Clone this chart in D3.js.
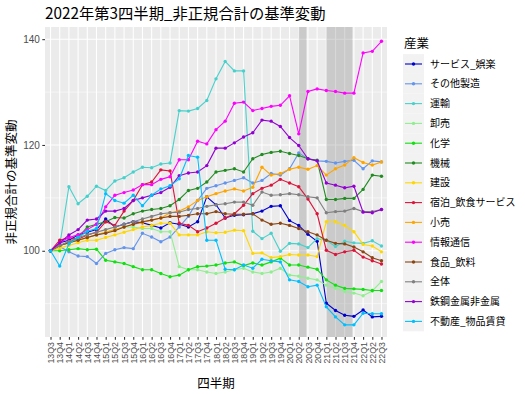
<!DOCTYPE html>
<html><head><meta charset="utf-8">
<script src="https://cdn.jsdelivr.net/npm/d3@7"></script>
<style>body{margin:0;background:#fff}svg{display:block}text{font-family:"Noto Sans CJK JP","Noto Sans",sans-serif}</style>
</head><body>
<script>
const quarters = ["13Q3","13Q4","14Q1","14Q2","14Q3","14Q4","15Q1","15Q2","15Q3","15Q4","16Q1","16Q2","16Q3","16Q4","17Q1","17Q2","17Q3","17Q4","18Q1","18Q2","18Q3","18Q4","19Q1","19Q2","19Q3","19Q4","20Q1","20Q2","20Q3","20Q4","21Q1","21Q2","21Q3","21Q4","22Q1","22Q2","22Q3"];
const industries = ["サービス_娯楽","その他製造","運輸","卸売","化学","機械","建設","宿泊_飲食サービス","小売","情報通信","食品_飲料","全体","鉄鋼金属非金属","不動産_物品賃貸"];
const colors = ["#0000CD","#6495ED","#48D1CC","#90EE90","#11E011","#228B22","#FFD700","#DC143C","#FFA500","#FF00FF","#8B4513","#808080","#9400D3","#00BFFF"];
const svc = [100,101.5,102,103,103.5,104,106,104.5,105,105.5,105.3,104.8,104.3,105.3,105,104.5,105.5,110.2,108.7,106.2,106.7,106.8,107,107.5,108.4,108.5,105.7,104.8,103.1,101.8,90.1,88.7,87.8,87.6,88.8,87.5,87.6];
const otherMfg = [100,100.8,99.8,99,98.9,97.6,99.5,100.2,100.6,100.4,103.3,102.6,101.7,102.6,104.5,106.5,109.5,111.8,112.3,112.8,113.3,113.8,112.8,113.3,114.6,114.3,115.5,118.5,117.4,117,116.9,116.6,116.9,117.1,115.5,117,116.8];
const transport = [100,101,112.1,108.9,110.3,112.2,111.4,113.2,113.8,114.9,115.8,115.7,116.4,116.6,126.5,126.4,126.9,128.4,132.5,135.8,134,134,103.7,102.3,103.3,99.9,101.4,101.3,100.6,102.3,102,100.8,101.8,101.5,101.4,101.9,100.9];
const wholesale = [100,101,101.5,102,102.5,103,103.5,104,104.5,104.5,104.2,104.2,103.6,103.6,97,96.4,96.4,96,95.7,96,96.4,96.7,96,95.7,96,96.7,95.4,95.2,94.8,94.5,93.5,92.9,92.3,92,91.5,92.4,94.2];
const chemical = [100,100,100.2,100.4,100.2,100.3,98.2,97.9,97.6,97,96.4,96.4,95.7,95.1,95.4,96.4,97,97.1,97.3,97.7,97.9,97.2,97.7,97.3,97.9,98.6,97.3,97.3,96.9,96.5,94.5,93.5,92.9,92.8,92.7,92.5,92.5];
const machinery = [100,101,101.5,102.5,104.5,105,105.5,106.3,106.2,107,107.5,107.8,108,108.5,109.7,111.4,111.8,113,114.9,115.2,115.5,114.9,117.4,118.2,118.6,118.8,118.4,118,117.4,117.1,109.7,109.7,109.9,109.9,111.6,114.3,114.1];
const construction = [100,100.5,101,101.5,102,102,102.5,103,103.5,104,104.5,104.8,105.2,105.2,103,103,103,103.6,103.4,103.5,103.9,103.8,99.5,99.6,98.7,98.9,99.3,99.2,99.2,98.9,105.5,105.5,104.8,103.6,101.2,100.9,99.8];
const hospitality = [100,102,102.5,102.2,103,103.5,105.5,104.8,107.5,109.5,112.5,113,115.3,115.1,105.2,104.8,103.6,104.3,105.2,106.2,107,108.6,110.8,111.8,112.4,113.5,112.8,112.1,109.8,107,100.1,99.3,99.8,100.1,98.8,98.1,97.5];
const retail = [100,101,101.5,102,102.5,103,103.5,104,104.5,105,105.3,105.8,106.2,107.2,107.5,108.3,109.5,110.2,110.8,111.3,111.7,111.3,112,115.8,114.3,114.6,115.4,115.8,115.4,116.1,114.3,115.5,116.2,117.6,116.7,116.2,116.8];
const infoComm = [100,101.5,102.5,103,104,105,108.3,110.5,111,111.5,112.5,112.5,113.5,114,117.2,117.2,120.7,120.2,122.9,124.5,127.9,128.1,126.5,126.9,127.3,127.5,129.3,122.1,130.1,130.6,130.3,130.1,129.8,129.8,137.4,137.7,139.6];
const foodBev = [100,101,101.5,102,102.5,103,103.3,103.8,104.5,105,105.5,105.8,106.2,106.5,106.5,106.7,107,107,107.4,107,106.9,106.9,107,105.8,105,105.2,104.8,104.2,103.6,103,102,101.4,101.3,100.7,99.8,98.7,98.1];
const total = [100,101,101.8,102.5,103,103.5,104,104.5,105,105.5,106,106.5,107,107.2,107.3,107.8,108,108.4,108.7,108.9,109.2,109.2,108.6,111.1,110.5,110.6,110.8,110.6,110.2,110,107.2,107.4,107.5,108,107.4,107.4,107.8];
const steel = [100,101.5,103,104,105.8,106,107.5,107.5,108,109.5,110,110.5,111,112,114.2,114.7,114.9,116.1,119.4,119.4,120.4,121.5,122.3,124.7,124.5,123.5,121.4,119.9,117.4,117,112.8,112.4,111.9,112.2,107.3,107.2,107.8];
const realEstate = [100,97.1,101.3,102.5,103.7,104.2,110.8,109.5,109,110.5,108.5,110.5,111.7,112.3,113.6,118,117.7,102,102,96.5,96.4,97.3,96.7,98.4,98.1,97.9,94.5,94.2,93.2,93.5,89.4,87.5,86,86,88.2,88.1,88.1];
const seriesValues = [svc,otherMfg,transport,wholesale,chemical,machinery,construction,hospitality,retail,infoComm,foodBev,total,steel,realEstate];
const yTicks = [100,120,140];
const yMinor = [90,110,130];
const shadedPeriods = [["20Q2","20Q3"],["21Q1","21Q4"]];
const titleText = "2022年第3四半期_非正規合計の基準変動";
const xTitle = "四半期", yTitle = "非正規合計の基準変動", legendTitle = "産業";

const W=525,H=394;
const P={l:45,r:387,t:27,b:337};
const svg=d3.select("body").append("svg").attr("width",W).attr("height",H);
const x=d3.scalePoint().domain(quarters).range([P.l,P.r]).padding(0.6);
const y=d3.scaleLinear().domain([83.7,142.3]).range([P.b,P.t]);

svg.append("rect").attr("x",P.l).attr("y",P.t).attr("width",P.r-P.l).attr("height",P.b-P.t).attr("fill","#EBEBEB");
const g=svg.append("g");
g.selectAll(".ymin").data(yMinor).join("line").attr("x1",P.l).attr("x2",P.r).attr("y1",d=>y(d)).attr("y2",d=>y(d)).attr("stroke","#fff").attr("stroke-width",0.55);
g.selectAll(".ymaj").data(yTicks).join("line").attr("x1",P.l).attr("x2",P.r).attr("y1",d=>y(d)).attr("y2",d=>y(d)).attr("stroke","#fff").attr("stroke-width",1.07);
g.selectAll(".xmaj").data(quarters).join("line").attr("x1",d=>x(d)).attr("x2",d=>x(d)).attr("y1",P.t).attr("y2",P.b).attr("stroke","#fff").attr("stroke-width",1.07);
g.selectAll(".shade").data(shadedPeriods).join("rect").attr("x",d=>x(d[0])).attr("width",d=>x(d[1])-x(d[0])-1.5).attr("y",P.t).attr("height",P.b-P.t).attr("fill","#7F7F7F").attr("opacity",0.3);

const line=d3.line().x((d,i)=>x(quarters[i])).y(d=>y(d));
industries.forEach((name,k)=>{
  const vals=seriesValues[k];
  g.append("path").datum(vals).attr("d",line).attr("fill","none").attr("stroke",colors[k]).attr("stroke-width",1.1);
  g.selectAll(null).data(vals).join("circle").attr("cx",(d,i)=>x(quarters[i])).attr("cy",d=>y(d)).attr("r",1.7).attr("fill",colors[k]);
});

// axes
const yAx=svg.append("g").attr("transform",`translate(${P.l},0)`).call(d3.axisLeft(y).tickValues(yTicks).tickSize(2.7).tickPadding(2.5));
yAx.select(".domain").remove();
yAx.selectAll("line").attr("stroke","#333").attr("stroke-width",1.07);
yAx.selectAll("text").attr("fill","#4D4D4D").style("font-size","10px").style("font-family","'Liberation Sans',Arial,sans-serif");
const xAx=svg.append("g").attr("transform",`translate(0,${P.b})`).call(d3.axisBottom(x).tickSize(2.7));
xAx.select(".domain").remove();
xAx.selectAll("line").attr("stroke","#333").attr("stroke-width",1.07);
xAx.selectAll("text").attr("fill","#4D4D4D").style("font-size","8.8px").style("font-family","'Liberation Sans',Arial,sans-serif")
  .attr("transform","rotate(-90)").attr("text-anchor","end").attr("x",-5).attr("y",0).attr("dy","0.35em");

svg.append("text").attr("x",45).attr("y",19).attr("font-size","15.3px").attr("fill","#000").text(titleText);
svg.append("text").attr("x",(P.l+P.r)/2).attr("y",388).attr("text-anchor","middle").attr("font-size","12.5px").attr("fill","#000").text(xTitle);
svg.append("text").attr("transform",`translate(16,${(P.t+P.b)/2}) rotate(-90)`).attr("text-anchor","middle").attr("font-size","12.5px").attr("fill","#000").text(yTitle);

// legend
const lg=svg.append("g");
lg.append("text").attr("x",404).attr("y",48).attr("font-size","12.5px").attr("fill","#000").text(legendTitle);
industries.forEach((name,k)=>{
  const cy=64+k*19.8;
  lg.append("rect").attr("x",403).attr("y",cy-9.9).attr("width",21).attr("height",19.8).attr("fill","#F2F2F2");
  lg.append("line").attr("x1",405).attr("x2",422).attr("y1",cy).attr("y2",cy).attr("stroke",colors[k]).attr("stroke-width",1.1);
  lg.append("circle").attr("cx",413.5).attr("cy",cy).attr("r",1.7).attr("fill",colors[k]);
  lg.append("text").attr("x",430).attr("y",cy).attr("dy","0.36em").attr("font-size","10px").attr("fill","#000").text(name);
});
</script>
</body></html>
